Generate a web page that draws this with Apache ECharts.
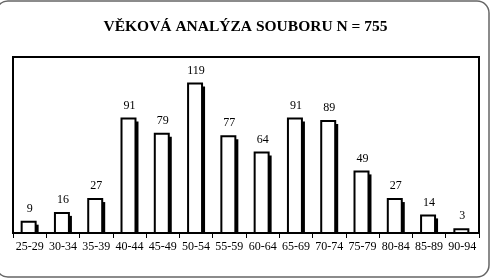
<!DOCTYPE html>
<html>
<head>
<meta charset="utf-8">
<script src="https://cdn.jsdelivr.net/npm/echarts@6/dist/echarts.min.js"></script>
<style>html,body{margin:0;padding:0;background:#fff;}#c{width:491px;height:280px;}</style>
</head>
<body>
<div id="c"></div>
<script>
const titleText = 'VĚKOVÁ ANALÝZA SOUBORU N = 755';
const categories = ['25-29','30-34','35-39','40-44','45-49','50-54','55-59','60-64','65-69','70-74','75-79','80-84','85-89','90-94'];
const counts = [9,16,27,91,79,119,77,64,91,89,49,27,14,3];

const chart = echarts.init(document.getElementById('c'), null, {renderer:'canvas'});
const serif = '"Liberation Serif","DejaVu Serif",serif';
chart.setOption({
  animation:false,
  backgroundColor:'#fff',
  title:{text:titleText,left:'center',top:14,textStyle:{fontFamily:serif,fontWeight:'bold',fontSize:15.5,color:'#000'}},
  graphic:[{type:'rect',z:-1,silent:true,shape:{x:-4,y:1,width:493,height:276,r:12},style:{fill:'none',stroke:'#666',lineWidth:1.5}}],
  grid:{left:13,right:12,top:57,bottom:47,show:true,borderColor:'#000',borderWidth:2,backgroundColor:'transparent'},
  xAxis:{type:'category',data:categories,boundaryGap:true,
    axisLine:{show:true,lineStyle:{color:'#000',width:1}},
    axisTick:{show:true,length:5,lineStyle:{color:'#000'}},
    axisLabel:{fontFamily:serif,fontSize:12,color:'#000',margin:8,interval:0}},
  yAxis:{type:'value',min:0,max:140,show:false,splitLine:{show:false}},
  series:[{
    type:'custom',
    data:counts.map((v,i)=>[i,v]),
    encode:{x:0,y:1},
    renderItem:function(params,api){
      const top = api.coord([api.value(0),api.value(1)]);
      const base = api.coord([api.value(0),0]);
      const band = api.size([1,0])[0];
      const w = band*0.42;
      const x0 = top[0]-w/2-1;
      const h = base[1]-top[1];
      return {type:'group',children:[
        {type:'rect',shape:{x:x0+3,y:top[1]+3,width:w,height:Math.max(h-3,0)},style:{fill:'#000'}},
        {type:'rect',shape:{x:x0,y:top[1],width:w,height:h},style:{fill:'#fff',stroke:'#000',lineWidth:2}},
        {type:'text',style:{text:String(api.value(1)),x:top[0],y:top[1]-7,align:'center',verticalAlign:'bottom',font:'12px '+serif,fill:'#000'}}
      ]};
    }
  }]
});
</script>
</body>
</html>
